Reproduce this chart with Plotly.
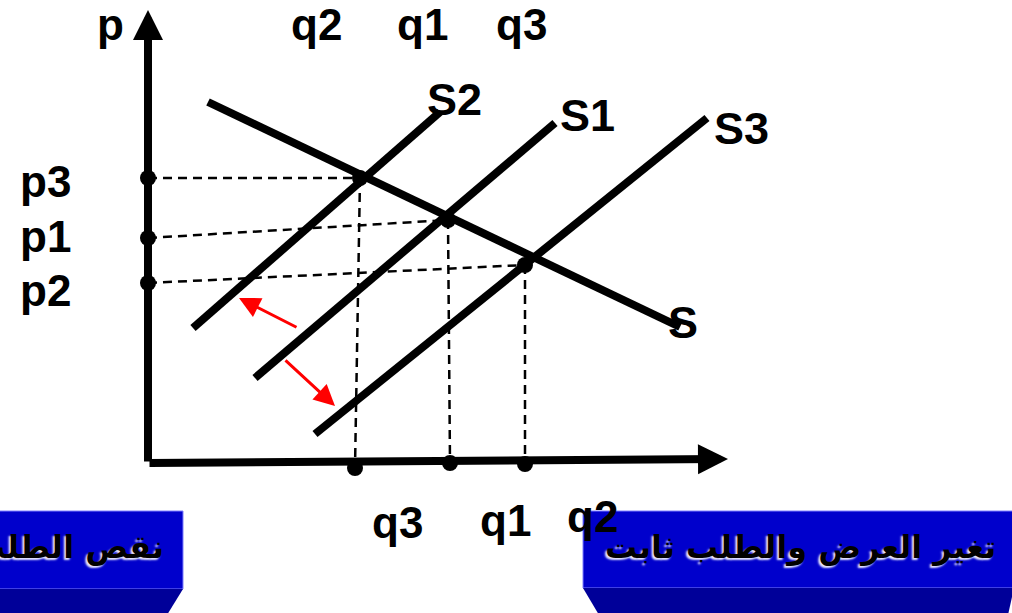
import plotly.graph_objects as go

# ---- diagram data (drawing units; y grows downward) ----
origin = [148, 463]
x_axis_tip = [728, 459]
y_axis_tip = [148, 10]

curve_names = ["S2", "S1", "S3", "S"]
curve_x0 = [193, 255, 315, 208]
curve_y0 = [328, 378, 434, 102]
curve_x1 = [440, 555, 707, 680]
curve_y1 = [112, 123, 118, 327]

eq_x = [360, 448, 525]          # equilibria with S2, S1, S3
eq_y = [178, 220, 265]
price_axis_y = [178, 238, 283]  # p3, p1, p2 on the price axis
qty_axis_x = [355, 450, 525]    # q3, q1, q2 on the quantity axis
qty_axis_y = [468, 463, 464]

shift_tail_x = [298, 284]
shift_tail_y = [328, 359]
shift_head_x = [239, 335]
shift_head_y = [298, 406]

label_text = ["p", "q2", "q1", "q3", "S2", "S1", "S3", "S",
              "p3", "p1", "p2", "q3", "q1", "q2"]
label_x = [110, 316, 422, 521, 454, 587, 741, 683,
           45, 45, 45, 397, 505, 592]
label_y = [24, 24, 24, 24, 99, 115, 128, 322,
           181, 236, 290, 522, 520, 516]

box_text = ["نقص الطلب", "تغير العرض والطلب ثابت"]
box_text_x = [166, 998]
box_text_y = [547, 547]

FONT = "Liberation Sans, Arial, sans-serif"

fig = go.Figure()

# dashed guide lines
for i in range(3):
    fig.add_trace(go.Scatter(x=[origin[0], eq_x[i]], y=[price_axis_y[i], eq_y[i]],
                             mode="lines", line=dict(color="black", width=2.5, dash="9px,6px"),
                             hoverinfo="skip", showlegend=False))
    fig.add_trace(go.Scatter(x=[eq_x[i], qty_axis_x[i]], y=[eq_y[i], qty_axis_y[i]],
                             mode="lines", line=dict(color="black", width=2.5, dash="9px,6px"),
                             hoverinfo="skip", showlegend=False))

# supply and demand curves
for i in range(len(curve_names)):
    fig.add_trace(go.Scatter(x=[curve_x0[i], curve_x1[i]], y=[curve_y0[i], curve_y1[i]],
                             mode="lines", line=dict(color="black", width=8),
                             name=curve_names[i], hoverinfo="skip", showlegend=False))

# dots
fig.add_trace(go.Scatter(x=eq_x + [origin[0]] * 3 + qty_axis_x,
                         y=eq_y + price_axis_y + qty_axis_y,
                         mode="markers", marker=dict(color="black", size=16),
                         hoverinfo="skip", showlegend=False))

# axes with arrows
for tip in (x_axis_tip, y_axis_tip):
    fig.add_annotation(x=tip[0], y=tip[1], ax=origin[0], ay=origin[1],
                       xref="x", yref="y", axref="x", ayref="y", text="",
                       showarrow=True, arrowhead=2, arrowwidth=8, arrowsize=0.75,
                       arrowcolor="black")

# red shift arrows
for i in range(2):
    fig.add_annotation(x=shift_head_x[i], y=shift_head_y[i], ax=shift_tail_x[i], ay=shift_tail_y[i],
                       xref="x", yref="y", axref="x", ayref="y", text="",
                       showarrow=True, arrowhead=2, arrowwidth=3, arrowsize=1.4,
                       arrowcolor="#ff0000")

# boxes
LIGHT = "#0000cc"
DARK = "#000099"
fig.add_shape(type="path", path="M -10 511 L 183 511 L 183 589 L -10 589 Z",
              xref="x", yref="y", fillcolor=LIGHT, line=dict(color="#7f7fff", width=1), layer="below")
fig.add_shape(type="path", path="M -10 589 L 183 589 L 167 615 L -10 615 Z",
              xref="x", yref="y", fillcolor=DARK, line=dict(width=0), layer="below")
fig.add_shape(type="path", path="M 583 511 L 1014 511 L 1014 588 L 583 588 Z",
              xref="x", yref="y", fillcolor=LIGHT, line=dict(color="#7f7fff", width=1), layer="below")
fig.add_shape(type="path", path="M 583 588 L 1014 588 L 1008 615 L 599 615 Z",
              xref="x", yref="y", fillcolor=DARK, line=dict(width=0), layer="below")

for t, x, y in zip(box_text, box_text_x, box_text_y):
    fig.add_annotation(x=x, y=y, xref="x", yref="y", text=t, showarrow=False,
                       xanchor="right", yanchor="middle",
                       font=dict(family="DejaVu Sans, Noto Sans, sans-serif", size=32, color="black",
                                 weight=700, shadow="-2px 2px 2px #e8e8ff"))

# labels
for t, x, y in zip(label_text, label_x, label_y):
    size = 45 if t.startswith("S") else 44
    fig.add_annotation(x=x, y=y, xref="x", yref="y", text=t, showarrow=False,
                       xanchor="center", yanchor="middle",
                       font=dict(family=FONT, size=size, color="black", weight=700))

fig.update_layout(width=1012, height=613, margin=dict(l=0, r=0, t=0, b=0),
                  paper_bgcolor="white", plot_bgcolor="white",
                  xaxis=dict(range=[0, 1012], visible=False, fixedrange=True),
                  yaxis=dict(range=[613, 0], visible=False, fixedrange=True))

fig.write_html("out.html", config={"displayModeBar": False},
               post_script="document.body.style.margin='0';document.body.style.overflow='hidden';")
